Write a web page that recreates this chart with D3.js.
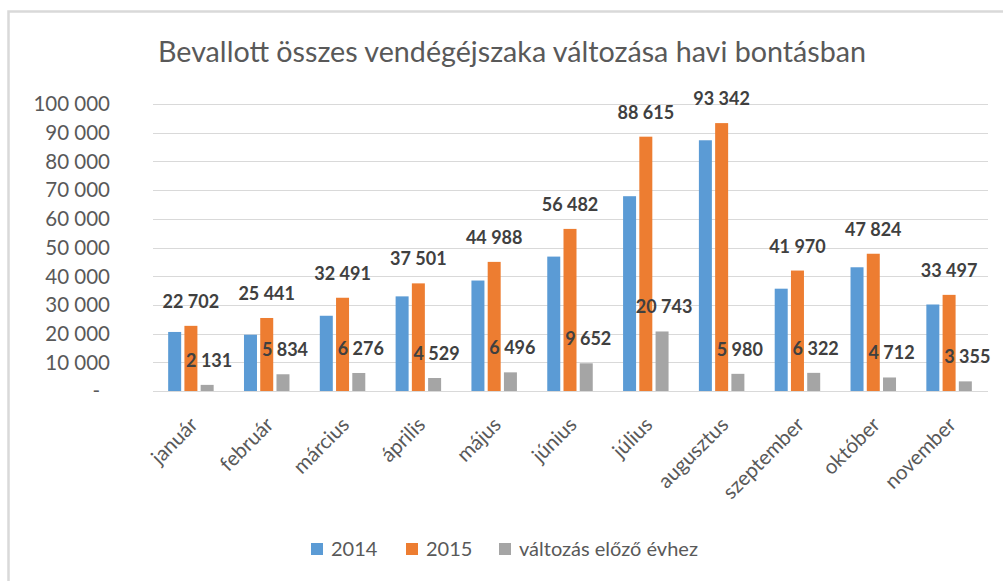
<!DOCTYPE html>
<html>
<head>
<meta charset="utf-8">
<script src="https://cdn.jsdelivr.net/npm/d3@7"></script>
<style>
  body { margin: 0; background: #fff; }
  svg { display: block; }
</style>
</head>
<body>
<svg id="chart" width="1003" height="581"></svg>
<script>
// data
const months = ["január", "február", "március", "április", "május", "június",
  "július", "augusztus", "szeptember", "október", "november"];
const series = ["2014", "2015", "változás előző évhez"];
const values2014 = [20571, 19607, 26215, 32972, 38492, 46830, 67872, 87362, 35648, 43112, 30142];
const values2015 = [22702, 25441, 32491, 37501, 44988, 56482, 88615, 93342, 41970, 47824, 33497];
const valuesChange = [2131, 5834, 6276, 4529, 6496, 9652, 20743, 5980, 6322, 4712, 3355];
const yTicks = [0, 10000, 20000, 30000, 40000, 50000, 60000, 70000, 80000, 90000, 100000];

const colors = ["#5b9bd5", "#ed7d31", "#a5a5a5"];
const labelled = [false, true, true];

const svg = d3.select("#chart");

// frame of the chart area
svg.append("path")
  .attr("d", "M8.5,581 L8.5,11.5 L1003,11.5")
  .attr("fill", "none")
  .attr("stroke", "#d9d9d9")
  .attr("stroke-width", 2.5);

// title
svg.append("text")
  .attr("x", 158)
  .attr("y", 62)
  .attr("textLength", 708)
  .attr("lengthAdjust", "spacingAndGlyphs")
  .attr("font-family", "Lato")
  .attr("font-weight", 400)
  .attr("font-size", 28)
  .attr("fill", "#595959")
  .text("Bevallott összes vendégéjszaka változása havi bontásban");

// scales
const x0 = d3.scaleBand().domain(months).range([153, 987]).padding(0);
const x1 = d3.scaleBand().domain(series)
  .range([x0.bandwidth() * 0.2, x0.bandwidth() * 0.8])
  .paddingInner(0.2).paddingOuter(0);
const y = d3.scaleLinear().domain([0, 100000]).range([391, 104]);

// gridlines
svg.append("g")
  .selectAll("line")
  .data(yTicks)
  .join("line")
  .attr("x1", 153)
  .attr("x2", 988)
  .attr("y1", d => Math.round(y(d)) + 0.5)
  .attr("y2", d => Math.round(y(d)) + 0.5)
  .attr("stroke", "#d9d9d9")
  .attr("stroke-width", 1);

// y axis labels
const fmt = v => v === 0 ? "-" : d3.format(",")(v).replace(/,/g, " ");
svg.append("g")
  .selectAll("text")
  .data(yTicks)
  .join("text")
  .attr("x", d => d === 0 ? 100 : 110)
  .attr("y", d => y(d))
  .attr("dy", "0.36em")
  .attr("text-anchor", "end")
  .attr("font-family", "Lato")
  .attr("font-size", 20.5)
  .attr("fill", "#595959")
  .text(fmt);

// bars
const rows = months.map((m, i) => ({
  month: m,
  vals: [values2014[i], values2015[i], valuesChange[i]]
}));

const groups = svg.append("g")
  .selectAll("g")
  .data(rows)
  .join("g")
  .attr("transform", d => `translate(${x0(d.month)},0)`);

groups.selectAll("rect")
  .data(d => d.vals.map((v, k) => ({ key: series[k], k, v })))
  .join("rect")
  .attr("x", d => x1(d.key))
  .attr("y", d => y(d.v))
  .attr("width", x1.bandwidth())
  .attr("height", d => y(0) - y(d.v))
  .attr("fill", d => colors[d.k]);

// data labels
groups.selectAll("text")
  .data(d => d.vals.map((v, k) => ({ key: series[k], k, v })).filter(d => labelled[d.k]))
  .join("text")
  .attr("x", d => x1(d.key) + x1.bandwidth() / 2 + (d.k === 2 ? 2 : 0))
  .attr("y", d => y(d.v) - 18)
  .attr("text-anchor", "middle")
  .attr("font-family", "Lato")
  .attr("font-weight", 700)
  .attr("font-size", 18)
  .attr("fill", "#404040")
  .text(d => fmt(d.v));

// x axis labels, rotated
svg.append("g")
  .selectAll("text")
  .data(months)
  .join("text")
  .attr("transform", d => `translate(${x0(d) + x0.bandwidth() / 2 + 3},${421}) rotate(-45)`)
  .attr("text-anchor", "end")
  .attr("dy", "0.35em")
  .attr("font-family", "Lato")
  .attr("font-size", 20.5)
  .attr("fill", "#595959")
  .text(d => d);

// legend
const legendX = [311, 406, 499];
const legend = svg.append("g")
  .selectAll("g")
  .data(series)
  .join("g")
  .attr("transform", (d, i) => `translate(${legendX[i]},543)`);

legend.append("rect")
  .attr("width", 12)
  .attr("height", 12)
  .attr("fill", (d, i) => colors[i]);

legend.append("text")
  .attr("x", 20)
  .attr("y", 6)
  .attr("dy", "0.36em")
  .attr("font-family", "Lato")
  .attr("font-size", 20)
  .attr("fill", "#595959")
  .text(d => d);
</script>
</body>
</html>
